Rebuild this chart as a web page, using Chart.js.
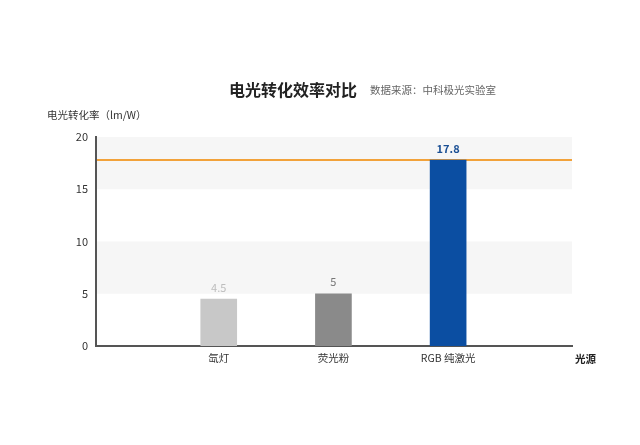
<!DOCTYPE html>
<html>
<head>
<meta charset="utf-8">
<script src="https://cdn.jsdelivr.net/npm/chart.js@4"></script>
<style>
html,body{margin:0;padding:0;background:#fff;}
#wrap{position:relative;width:640px;height:445px;}
</style>
</head>
<body>
<div id="wrap"><canvas id="c" width="640" height="445"></canvas></div>
<script>
const categories = ['氙灯', '荧光粉', 'RGB 纯激光'];
const values = [4.5, 5, 17.8];
const barColors = ['#c8c8c8', '#8a8a8a', '#0b4ea2'];
const labelColors = ['#bdbdbd', '#777', '#1a4f94'];
const referenceValue = 17.8;
const yTicks = [0, 5, 10, 15, 20];
const bands = [[5, 10], [15, 20]];
const titleText = '电光转化效率对比';
const subtitleText = '数据来源：中科极光实验室';
const yTitle = '电光转化率（lm/W）';
const xTitle = '光源';

const FONT = '"Noto Sans CJK SC", "Noto Sans", sans-serif';

const decor = {
  id: 'decor',
  beforeDraw(chart) {
    const {ctx, chartArea: a, scales: {y}} = chart;
    ctx.save();
    ctx.fillStyle = '#f6f6f6';
    bands.forEach(([lo, hi]) => {
      const t = y.getPixelForValue(hi), b = y.getPixelForValue(lo);
      ctx.fillRect(a.left, t, a.right - a.left, b - t);
    });
    ctx.restore();
  },
  beforeDatasetsDraw(chart) {
    const {ctx, chartArea: a, scales: {y}} = chart;
    ctx.save();
    const ry = y.getPixelForValue(referenceValue);
    ctx.strokeStyle = '#f2a23a';
    ctx.lineWidth = 2;
    ctx.beginPath();
    ctx.moveTo(a.left + 1, ry);
    ctx.lineTo(a.right, ry);
    ctx.stroke();
    ctx.restore();
  },
  afterDatasetsDraw(chart) {
    const {ctx, chartArea: a} = chart;
    const meta = chart.getDatasetMeta(0);
    ctx.save();
    ctx.textAlign = 'center';
    ctx.textBaseline = 'bottom';
    meta.data.forEach((bar, i) => {
      ctx.fillStyle = labelColors[i];
      ctx.font = (i === 2 ? 'bold ' : '') + '11px ' + FONT;
      ctx.fillText(String(values[i]), bar.x, bar.y - 6);
    });
    ctx.textBaseline = 'middle';
    ctx.textAlign = 'left';
    ctx.fillStyle = '#222';
    ctx.font = 'bold 16px ' + FONT;
    ctx.fillText(titleText, 229, 90);
    ctx.fillStyle = '#666';
    ctx.font = '10.5px ' + FONT;
    ctx.fillText(subtitleText, 370, 90);
    ctx.fillStyle = '#333';
    ctx.font = '10.5px ' + FONT;
    ctx.fillText(yTitle, 47, 115);
    ctx.font = 'bold 10.5px ' + FONT;
    ctx.fillStyle = '#222';
    ctx.fillText(xTitle, a.right + 3, a.bottom + 13);
    ctx.restore();
  }
};

new Chart(document.getElementById('c'), {
  type: 'bar',
  data: {
    datasets: [{
      data: values.map((v, i) => ({x: i + 1, y: v})),
      backgroundColor: barColors,
      barThickness: 36,
      borderWidth: 0
    }]
  },
  options: {
    responsive: false,
    animation: false,
    devicePixelRatio: 1,
    layout: {padding: {top: 137, right: 68, bottom: 69, left: 0}},
    plugins: {legend: {display: false}, tooltip: {enabled: false}},
    scales: {
      x: {
        type: 'linear',
        offset: false,
        min: -0.07, max: 4.08,
        afterBuildTicks(s) { s.ticks = categories.map((c, i) => ({value: i + 1})); },
        grid: {display: false, drawTicks: false, offset: false},
        border: {display: true, color: '#555', width: 2},
        ticks: {
          color: '#333', font: {size: 10.5, family: FONT}, padding: 6, maxRotation: 0, autoSkip: false,
          callback: (v) => categories[v - 1]
        },
        afterFit(s) { s.height = 30; }
      },
      y: {
        min: 0, max: 20,
        afterBuildTicks(s) { s.ticks = yTicks.map(v => ({value: v})); },
        grid: {display: false, drawTicks: false},
        border: {display: true, color: '#555', width: 2},
        ticks: {color: '#333', font: {size: 11, family: FONT}, padding: 8},
        afterFit(s) { s.width = 96; }
      }
    }
  },
  plugins: [decor]
});
</script>
</body>
</html>
